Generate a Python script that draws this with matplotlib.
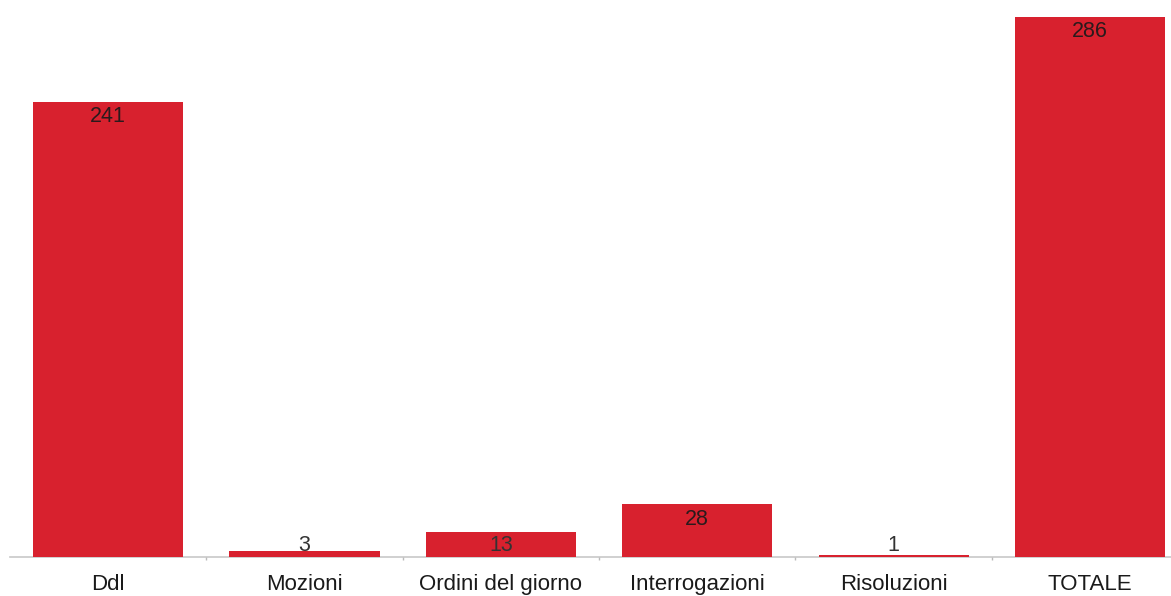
import matplotlib
matplotlib.use("Agg")
import matplotlib.pyplot as plt
import numpy as np

# ── Data ─────────────────────────────────────────────────────────────────────
categories = ["Ddl", "Mozioni", "Ordini del giorno", "Interrogazioni",
              "Risoluzioni", "TOTALE"]
values = [241, 3, 13, 28, 1, 286]

BAR_COLOR = "#d8212e"
FONT = "Liberation Sans"

# ── Figure ───────────────────────────────────────────────────────────────────
W, H = 1171, 596
fig = plt.figure(figsize=(W / 100, H / 100), dpi=100)
ax = fig.add_axes([10 / W, 39 / H, (W - 10) / W, 540 / H])

x = np.arange(len(categories))
ax.bar(x, values, width=0.765, color=BAR_COLOR, zorder=2, clip_on=False)

ax.set_xlim(-0.5, (W - 108) / 196.4)
ax.set_ylim(0, max(values))

# value labels: just inside the bar top, but never below a minimum height
OFFSET, FLOOR = 7.9, 6.2
for xi, v in zip(x, values):
    y = max(v - OFFSET, FLOOR)
    col = "#2a1a1c" if v - OFFSET > FLOOR else "#333333"
    ax.text(xi, y, str(v), ha="center", va="center", fontsize=15.5,
            family=FONT, color=col, zorder=3)

for side in ["top", "right", "left"]:
    ax.spines[side].set_visible(False)
ax.spines["bottom"].set_color("#c8c8c8")
ax.spines["bottom"].set_linewidth(1.2)
ax.spines["bottom"].set_zorder(1)

ax.set_yticks([])
ax.set_xticks(x)
ax.set_xticklabels(categories, fontsize=16, family=FONT, color="#1a1a1a")
ax.tick_params(axis="x", which="major", length=0, pad=12.5)
ax.set_xticks(x[:-1] + 0.5, minor=True)
ax.tick_params(axis="x", which="minor", length=2, color="#bbbbbb", width=1)

fig.savefig("out.png", dpi=100, facecolor="white")
